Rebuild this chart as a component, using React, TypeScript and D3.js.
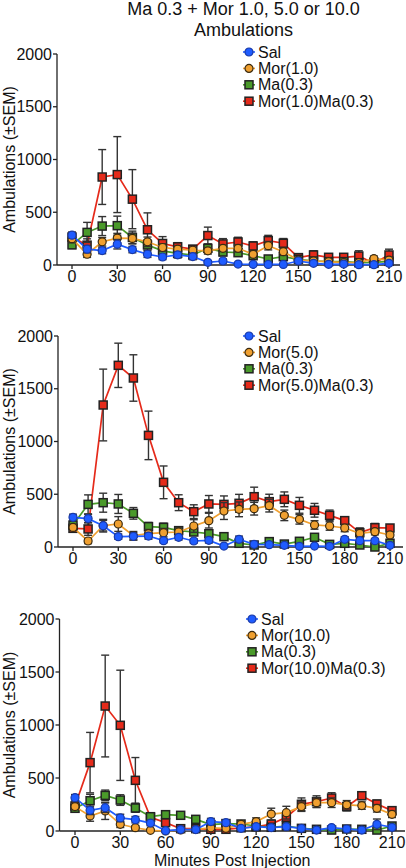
import React from "react";
import * as d3 from "d3";

const times = [0, 10, 20, 30, 40, 50, 60, 70, 80, 90, 100, 110, 120, 130, 140, 150, 160, 170, 180, 190, 200, 210];
const xTicks = [0, 30, 60, 90, 120, 150, 180, 210];
const yTicks = [0, 500, 1000, 1500, 2000];

const titleLines = ["Ma 0.3 + Mor 1.0, 5.0 or 10.0", "Ambulations"];
const yLabel = "Ambulations (±SEM)";
const xLabel = "Minutes Post Injection";

// Panel 1: Mor 1.0
const legend1 = ["Sal", "Mor(1.0)", "Ma(0.3)", "Mor(1.0)Ma(0.3)"];
const sal1 = [283, 150, 137, 197, 146, 102, 76, 96, 80, 25, 38, 9, 6, 5, 5, 38, 16, 6, 9, 3, 3, 16];
const salSem1 = [30, 35, 30, 45, 30, 30, 25, 30, 30, 15, 20, 8, 6, 5, 5, 20, 10, 5, 8, 4, 4, 10];
const mor1 = [250, 102, 220, 255, 252, 220, 166, 150, 140, 134, 158, 158, 101, 183, 126, 47, 38, 32, 22, 22, 60, 47];
const morSem1 = [40, 30, 40, 45, 50, 45, 35, 30, 30, 30, 30, 35, 30, 40, 35, 20, 15, 15, 12, 12, 25, 20];
const ma1 = [191, 309, 369, 373, 261, 190, 134, 111, 95, 158, 123, 117, 88, 57, 79, 54, 38, 32, 32, 22, 25, 35];
const maSem1 = [35, 95, 90, 90, 60, 50, 40, 35, 30, 40, 35, 35, 30, 20, 25, 20, 15, 15, 15, 12, 12, 15];
const combo1 = [265, 188, 834, 857, 624, 334, 204, 172, 150, 279, 200, 218, 180, 231, 206, 70, 95, 73, 73, 85, 16, 95];
const comboSem1 = [40, 60, 260, 360, 280, 160, 65, 40, 35, 80, 50, 45, 40, 50, 45, 25, 40, 30, 30, 50, 15, 55];

// Panel 2: Mor 5.0
const legend2 = ["Sal", "Mor(5.0)", "Ma(0.3)", "Mor(5.0)Ma(0.3)"];
const sal5 = [281, 269, 202, 98, 101, 104, 60, 92, 57, 63, 9, 73, 25, 22, 16, 6, 9, 6, 73, 60, 60, 16];
const salSem5 = [30, 40, 50, 25, 35, 30, 20, 25, 20, 25, 8, 30, 12, 10, 8, 5, 6, 5, 25, 20, 20, 10];
const mor5 = [186, 57, 202, 218, 107, 126, 136, 142, 199, 250, 341, 357, 363, 392, 300, 262, 209, 199, 180, 130, 145, 114];
const morSem5 = [30, 25, 60, 70, 40, 40, 40, 40, 60, 70, 80, 70, 60, 60, 50, 45, 40, 40, 35, 30, 30, 25];
const ma5 = [208, 404, 420, 408, 319, 193, 186, 155, 142, 126, 98, 35, 19, 51, 28, 54, 92, 25, 35, 19, 0, 35];
const maSem5 = [40, 90, 90, 90, 55, 40, 40, 30, 30, 30, 30, 15, 10, 15, 10, 20, 30, 10, 15, 10, 5, 15];
const combo5 = [177, 171, 1346, 1722, 1602, 1058, 613, 420, 335, 408, 404, 414, 477, 430, 452, 395, 348, 300, 250, 136, 183, 180];
const comboSem5 = [35, 60, 340, 210, 220, 230, 155, 75, 65, 80, 80, 85, 90, 70, 70, 75, 65, 50, 35, 45, 40, 30];

// Panel 3: Mor 10.0
const legend3 = ["Sal", "Mor(10.0)", "Ma(0.3)", "Mor(10.0)Ma(0.3)"];
const sal10 = [314, 195, 220, 123, 107, 75, 3, 13, 13, 89, 79, 25, 41, 32, 41, 25, 9, 32, 19, 9, 63, 35];
const salSem10 = [30, 40, 45, 35, 30, 25, 5, 8, 8, 30, 25, 12, 15, 12, 15, 10, 6, 12, 10, 6, 50, 15];
const mor10 = [230, 142, 189, 63, 31, 6, 0, 10, 15, 30, 25, 63, 89, 160, 173, 230, 267, 267, 247, 240, 214, 157];
const morSem10 = [30, 50, 80, 30, 20, 5, 3, 5, 8, 12, 10, 25, 35, 55, 60, 45, 45, 45, 40, 35, 35, 30];
const ma10 = [214, 286, 336, 292, 217, 135, 154, 148, 110, 60, 70, 66, 47, 35, 47, 25, 16, 9, 19, 16, 9, 47];
const maSem10 = [30, 60, 50, 50, 40, 30, 25, 20, 20, 20, 20, 20, 15, 12, 15, 10, 8, 6, 8, 8, 6, 15];
const combo10 = [236, 645, 1179, 997, 478, 129, 79, 22, 22, 16, 16, 30, 40, 65, 130, 252, 277, 311, 230, 333, 255, 192];
const comboSem10 = [35, 285, 480, 520, 215, 30, 25, 10, 10, 8, 8, 12, 15, 25, 40, 60, 55, 50, 40, 35, 35, 30];

const COLORS = ["#1f5cff", "#f0a030", "#4a9a2a", "#e52a1a"];
const SHAPES = ["circle", "circle", "square", "square"];
const FONT = "'Liberation Sans', Arial, sans-serif";

type Series = { values: number[]; sem: number[] };

function Marker({ x, y, i }: { x: number; y: number; i: number }) {
  if (SHAPES[i] === "circle") {
    return <circle cx={x} cy={y} r={4} fill={COLORS[i]} stroke={i === 0 ? "#1a3aa8" : "#3a2a10"} strokeWidth={1.2} />;
  }
  return <rect x={x - 4} y={y - 4} width={8} height={8} fill={COLORS[i]} stroke="#222" strokeWidth={1.5} />;
}

function Panel({ series, legend, axisX, y0, yTop, x0, x210, xEnd, legX, legY, showXLabel }: {
  series: Series[]; legend: string[]; axisX: number; y0: number; yTop: number; x0: number; x210: number; xEnd: number;
  legX: number; legY: number; showXLabel: boolean;
}) {
  const x = d3.scaleLinear().domain([0, 210]).range([x0, x210]);
  const y = d3.scaleLinear().domain([0, 2000]).range([y0, yTop]);
  const line = d3.line<number>().x((_, k) => x(times[k])).y((d) => y(d));
  const order = [3, 2, 1, 0];
  return (
    <g fontFamily={FONT}>
      {/* y axis */}
      <line x1={axisX} x2={axisX} y1={y0} y2={yTop} stroke="#222" strokeWidth={1.3} />
      {yTicks.map((t) => (
        <g key={t}>
          <line x1={axisX - 4} x2={axisX} y1={y(t)} y2={y(t)} stroke="#222" strokeWidth={1.3} />
          <text x={axisX - 5} y={y(t) + 5.5} fontSize={16} textAnchor="end" fill="#111">{t}</text>
        </g>
      ))}
      {/* x axis */}
      <line x1={axisX} x2={xEnd} y1={y0} y2={y0} stroke="#222" strokeWidth={1.3} />
      {xTicks.map((t) => (
        <g key={t}>
          <line x1={x(t)} x2={x(t)} y1={y0} y2={y0 + 4} stroke="#222" strokeWidth={1.3} />
          <text x={x(t)} y={y0 + 16.5} fontSize={16} textAnchor="middle" fill="#111">{t}</text>
        </g>
      ))}
      <text transform={`translate(15,${(y0 + yTop) / 2}) rotate(-90)`} fontSize={16} textAnchor="middle" fill="#111">{yLabel}</text>
      {showXLabel && (
        <text x={(axisX + xEnd) / 2} y={y0 + 34.5} fontSize={16} textAnchor="middle" fill="#111">{xLabel}</text>
      )}
      {/* series */}
      {order.map((i) => {
        const s = series[i];
        return (
          <g key={i}>
            <path d={line(s.values) || ""} fill="none" stroke={COLORS[i]} strokeWidth={1.7} />
            {s.values.map((v, k) => {
              const xx = x(times[k]);
              const yHi = y(v + s.sem[k]);
              const yLo = y(Math.max(0, v - s.sem[k]));
              return (
                <g key={k} stroke="#333" strokeWidth={1.4}>
                  <line x1={xx} x2={xx} y1={yHi} y2={yLo} />
                  <line x1={xx - 4} x2={xx + 4} y1={yHi} y2={yHi} />
                  <line x1={xx - 4} x2={xx + 4} y1={yLo} y2={yLo} />
                </g>
              );
            })}
            {s.values.map((v, k) => (
              <Marker key={k} x={x(times[k])} y={y(v)} i={i} />
            ))}
          </g>
        );
      })}
      {/* legend */}
      {legend.map((lab, i) => (
        <g key={lab} transform={`translate(${legX},${legY + i * 16.4})`}>
          <line x1={-6} x2={6} y1={0} y2={0} stroke={COLORS[i]} strokeWidth={1.6} />
          <Marker x={0} y={0} i={i} />
          <text x={9} y={5.5} fontSize={16} fill="#111">{lab}</text>
        </g>
      ))}
    </g>
  );
}

export default function App() {
  const p1: Series[] = [
    { values: sal1, sem: salSem1 },
    { values: mor1, sem: morSem1 },
    { values: ma1, sem: maSem1 },
    { values: combo1, sem: comboSem1 },
  ];
  const p2: Series[] = [
    { values: sal5, sem: salSem5 },
    { values: mor5, sem: morSem5 },
    { values: ma5, sem: maSem5 },
    { values: combo5, sem: comboSem5 },
  ];
  const p3: Series[] = [
    { values: sal10, sem: salSem10 },
    { values: mor10, sem: morSem10 },
    { values: ma10, sem: maSem10 },
    { values: combo10, sem: comboSem10 },
  ];
  return (
    <svg width={406} height={868} style={{ position: "absolute", left: 0, top: 0, background: "#fff" }}>
      <rect width={406} height={868} fill="#fff" />
      <text x={243.5} y={15} fontSize={18} textAnchor="middle" fontFamily={FONT} fill="#111">{titleLines[0]}</text>
      <text x={243.5} y={36} fontSize={18} textAnchor="middle" fontFamily={FONT} fill="#111">{titleLines[1]}</text>
      <Panel series={p1} legend={legend1} axisX={57} y0={265} yTop={54} x0={72} x210={389} xEnd={400} legX={249} legY={52} showXLabel={false} />
      <Panel series={p2} legend={legend2} axisX={58} y0={547} yTop={336} x0={73} x210={390} xEnd={403} legX={249} legY={336} showXLabel={false} />
      <Panel series={p3} legend={legend3} axisX={59.5} y0={831} yTop={619} x0={75} x210={392} xEnd={405} legX={252} legY={619} showXLabel={true} />
    </svg>
  );
}
